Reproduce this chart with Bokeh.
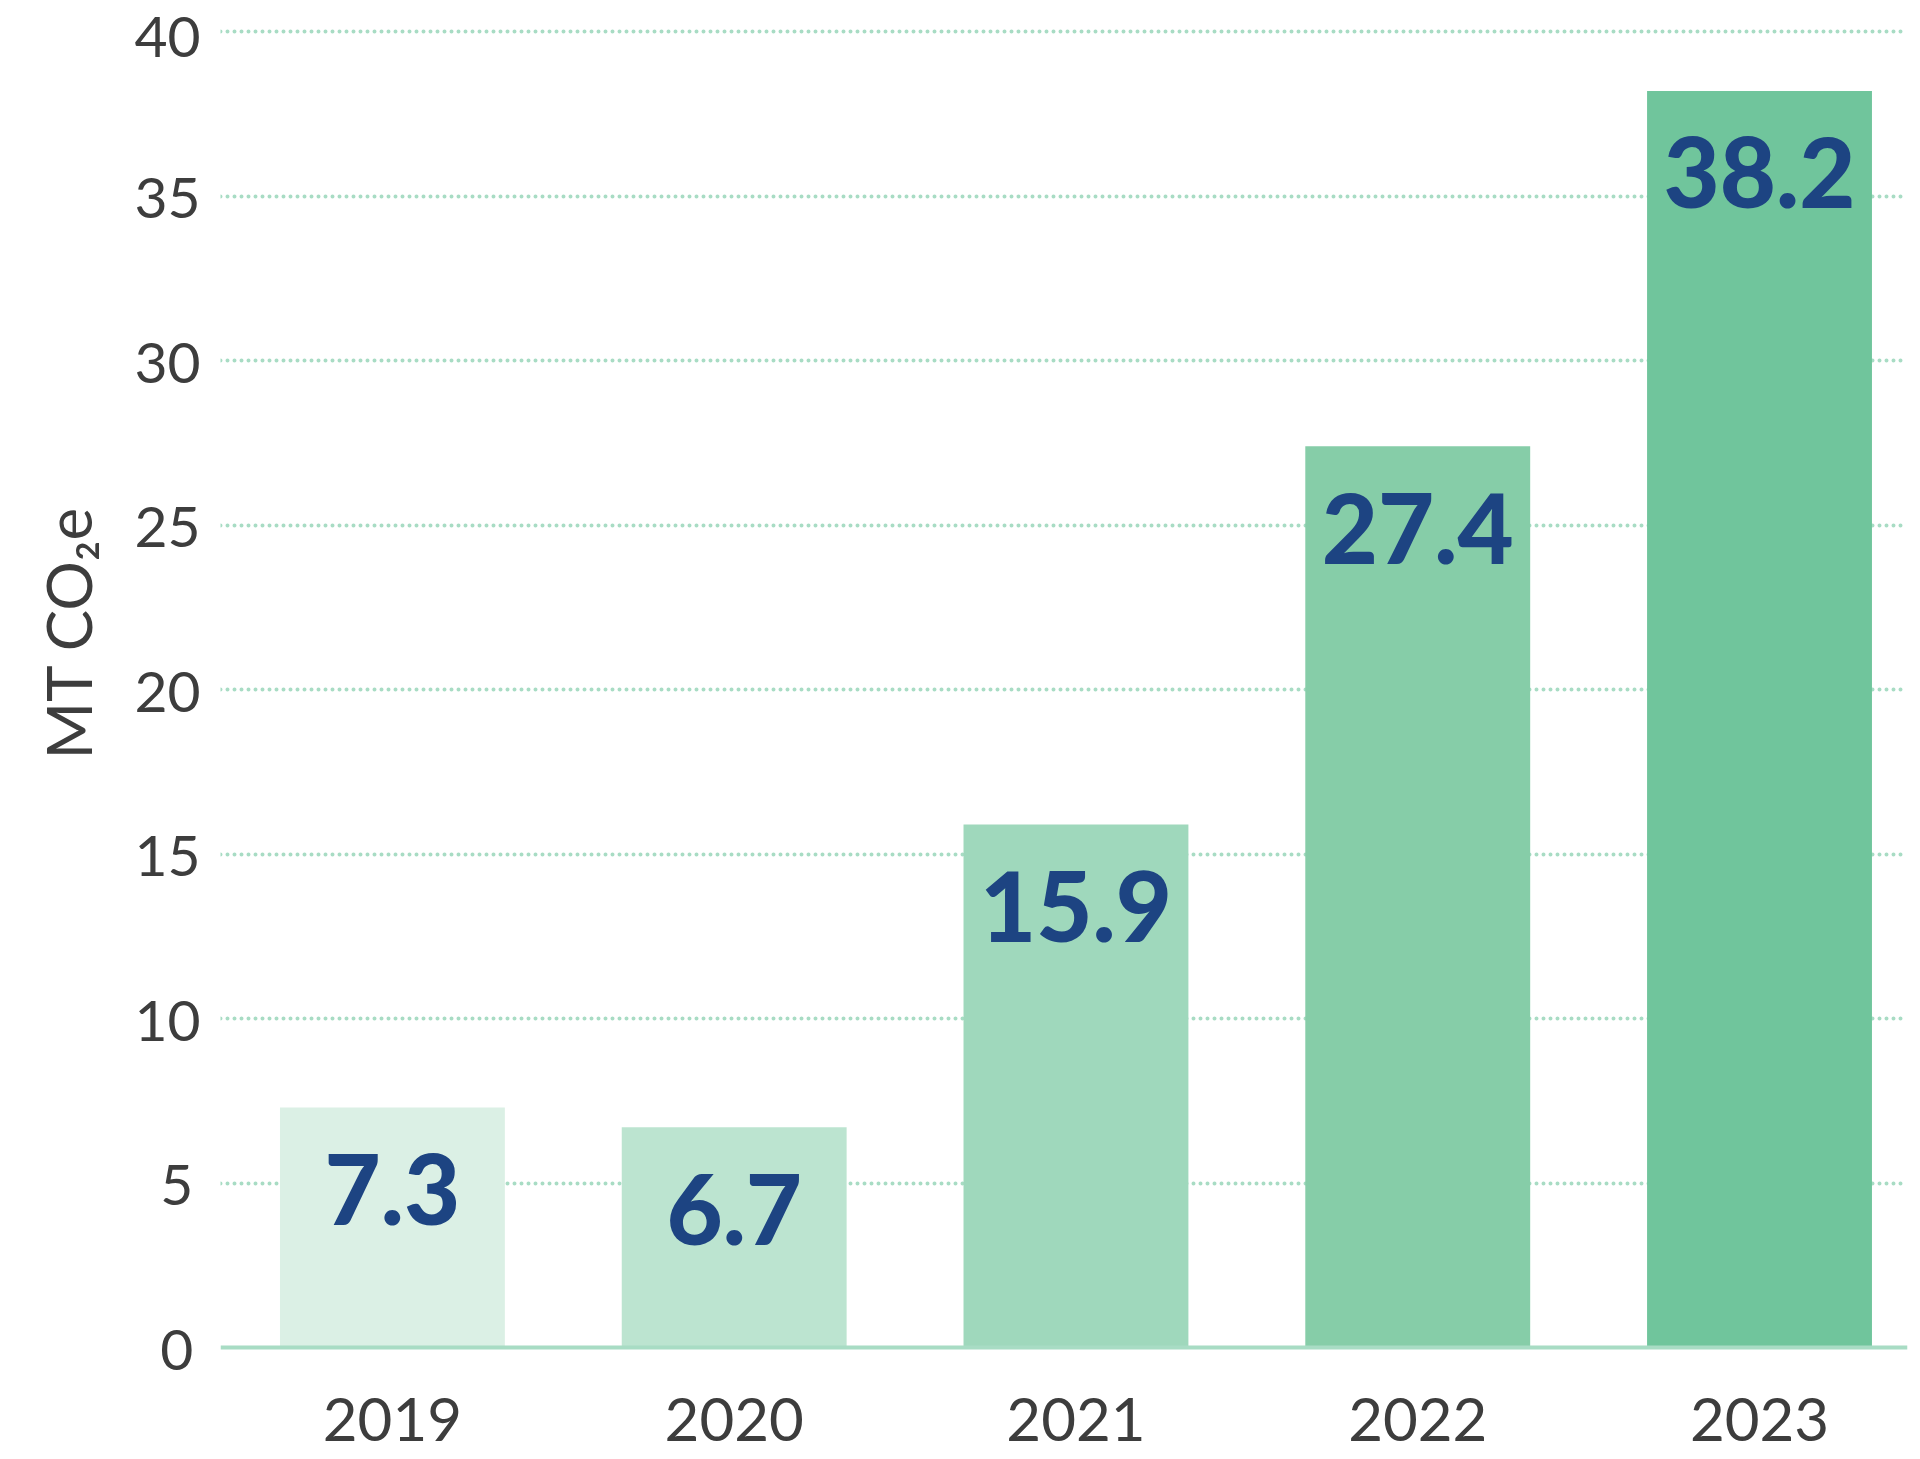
from bokeh.plotting import figure
from bokeh.models import Range1d, FixedTicker, Span, ColumnDataSource, Title
from bokeh.core.properties import value
from bokeh.embed import file_html
from bokeh.resources import INLINE

years = ["2019", "2020", "2021", "2022", "2023"]
emissions = [7.3, 6.7, 15.9, 27.4, 38.2]
bar_colors = ["#dbf0e5", "#bce4d0", "#9fd8bc", "#86cda8", "#70c59c"]
y_ticks = [0, 5, 10, 15, 20, 25, 30, 35, 40]
y_tick_labels = ["0\u2009", "5\u2009", "10", "15", "20", "25", "30", "35", "40"]
value_labels = ["7.3", "6.7", "15.9", "27.4", "38.2"]
y_title = "MT CO\u2082e"

xs = list(range(len(years)))
src = ColumnDataSource(dict(x=xs, top=emissions, color=bar_colors, label=value_labels))

p = figure(frame_width=1687, frame_height=1329,
           x_range=Range1d(-0.503, 4.433), y_range=Range1d(-0.15, 40.25),
           output_backend="svg", toolbar_location=None,
           min_border_left=220, min_border_top=23, min_border_right=13, min_border_bottom=107)
p.outline_line_color = None
p.background_fill_color = "white"
p.border_fill_color = "white"

p.vbar(x="x", top="top", bottom=0, width=0.658, fill_color="color", line_color=None, source=src)
p.text(x="x", y="top", text="label", source=src, text_align="center", text_baseline="middle",
       y_offset=82, text_font=value("Lato Black"), text_font_style="bold",
       text_font_size="97px", text_color="#1d4482")

p.add_layout(Span(location=0, dimension="width", line_color="#a8dcc4", line_width=4))

p.xgrid.visible = False
p.ygrid.ticker = FixedTicker(ticks=y_ticks[1:])
p.ygrid.grid_line_color = "#a8dcc4"
p.ygrid.grid_line_width = 4
p.ygrid.grid_line_dash = "0 7"
p.ygrid.grid_line_cap = "round"

for ax in (p.xaxis, p.yaxis):
    ax.axis_line_color = None
    ax.major_tick_line_color = None
    ax.minor_tick_line_color = None
    ax.major_tick_out = 0
    ax.major_tick_in = 0
    ax.minor_tick_out = 0
    ax.minor_tick_in = 0
    ax.major_label_text_font = "Lato"
    ax.major_label_text_color = "#3d3d3d"

p.yaxis.ticker = FixedTicker(ticks=y_ticks)
p.yaxis.major_label_overrides = {t: s for t, s in zip(y_ticks, y_tick_labels)}
p.yaxis.major_label_standoff = 20
p.yaxis.major_label_text_font_size = "57px"

p.xaxis.ticker = FixedTicker(ticks=xs)
p.xaxis.major_label_overrides = {i: y for i, y in zip(xs, years)}
p.xaxis.major_label_standoff = 45
p.xaxis.major_label_text_font_size = "60px"

ytitle = Title(text=y_title, align="left", vertical_align="top", offset=593, standoff=50,
               text_font="Lato", text_font_size="62px", text_font_style="normal",
               text_color="#3d3d3d")
p.add_layout(ytitle, "left")

open("out.html", "w").write(file_html(p, INLINE))
